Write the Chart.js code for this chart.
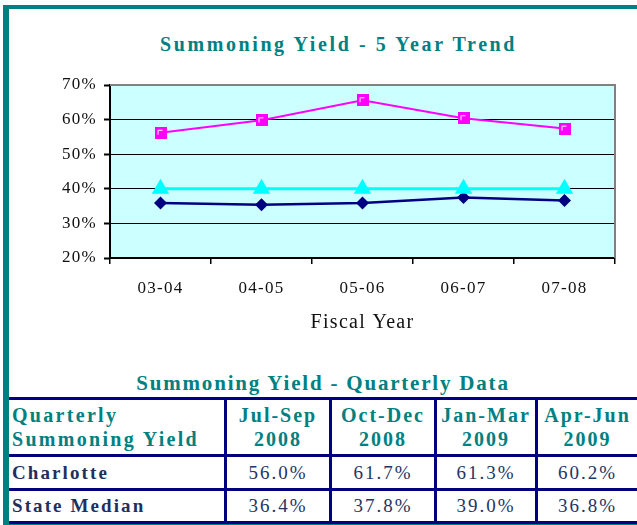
<!DOCTYPE html>
<html>
<head>
<meta charset="utf-8">
<script src="https://cdn.jsdelivr.net/npm/chart.js@4.4.0/dist/chart.umd.min.js"></script>
<style>
html, body { margin: 0; padding: 0; background: #fff; width: 637px; height: 525px; overflow: hidden; position: relative;
  font-family: "Liberation Serif", "Times New Roman", serif; }
#frame { position: absolute; left: 3px; top: 5px; width: 700px; height: 520px; box-sizing: border-box;
  border-left: 6px solid #008080; border-top: 4px solid #008080; border-bottom: 2px solid #008080; }
#title { position: absolute; left: 40px; width: 597px; top: 32px; line-height: 24px; text-align: center;
  font-weight: bold; font-size: 20px; letter-spacing: 2.6px; color: #008080; }
#chart { position: absolute; left: 9px; top: 9px; }
#qtitle { position: absolute; left: 9px; width: 628px; top: 371px; line-height: 24px; text-align: center;
  font-weight: bold; font-size: 21px; letter-spacing: 1.8px; color: #008080; }
#qtable { position: absolute; left: 9px; top: 397px; display: grid;
  grid-template-columns: 218px 105px 105px 101px 102px; grid-template-rows: 57px 34px 33px;
  border-top: 3px solid #000080; z-index: 2; }
#qtable div { box-sizing: border-box; border-right: 3px solid #000080; border-bottom: 3px solid #000080;
  display: flex; align-items: center; justify-content: center; text-align: center; }
#qtable .hd { color: #008080; font-weight: bold; font-size: 20px; letter-spacing: 2px; line-height: 24px; }
#qtable .lab { justify-content: flex-start; text-align: left; padding-left: 3px; letter-spacing: 2.3px; }
#qtable .rl { color: #1F2F5F; font-weight: bold; font-size: 19px; letter-spacing: 2.1px; }
#qtable .v { color: #243463; font-size: 19px; letter-spacing: 2px; }
</style>
</head>
<body>
<div id="frame"></div>
<div id="title">Summoning Yield - 5 Year Trend</div>
<canvas id="chart" width="628" height="330"></canvas>
<div id="qtitle">Summoning Yield - Quarterly Data</div>
<div id="qtable"></div>
<script>
// 5 year trend
const years = ['03-04', '04-05', '05-06', '06-07', '07-08'];
const charlotte = [56.2, 59.8, 65.6, 60.4, 57.4];
const stateMedian = [35.9, 35.4, 35.9, 37.5, 36.6];
const benchmark = [40, 40, 40, 40, 40];
const yMin = 20, yMax = 70, yStep = 10;

// quarterly table
const quarters = ['Jul-Sep', 'Oct-Dec', 'Jan-Mar', 'Apr-Jun'];
const quarterYears = ['2008', '2008', '2009', '2009'];
const qCharlotte = [56.0, 61.7, 61.3, 60.2];
const qStateMedian = [36.4, 37.8, 39.0, 36.8];

const serif = '"Liberation Serif", "Times New Roman", serif';

// magenta square with the little white corner
function squareMarker() {
    const c = document.createElement('canvas');
    c.width = 12; c.height = 12;
    const g = c.getContext('2d');
    g.fillStyle = '#FF00FF';
    g.fillRect(0, 0, 12, 12);
    g.strokeStyle = '#fff';
    g.lineWidth = 1;
    g.beginPath();
    g.moveTo(3.5, 8); g.lineTo(3.5, 3.5); g.lineTo(8, 3.5);
    g.stroke();
    return c;
}

const plotBg = {
    id: 'plotBg',
    beforeLayout: (chart) => { chart.ctx.letterSpacing = '1.3px'; },
    beforeDraw: (chart) => {
        const ctx = chart.ctx, a = chart.chartArea;
        ctx.letterSpacing = '1.3px';
        ctx.save();
        ctx.fillStyle = '#CCFFFF';
        ctx.fillRect(a.left, a.top, a.right - a.left, a.bottom - a.top);
        ctx.restore();
    },
    beforeDatasetsDraw: (chart) => {
        const ctx = chart.ctx, a = chart.chartArea;
        ctx.save();
        ctx.strokeStyle = '#808080';
        ctx.lineWidth = 2;
        ctx.beginPath();
        ctx.moveTo(a.left, a.top);
        ctx.lineTo(a.right, a.top);
        ctx.lineTo(a.right, a.bottom);
        ctx.stroke();
        ctx.restore();
    }
};

new Chart(document.getElementById('chart'), {
    type: 'line',
    data: {
        labels: years,
        datasets: [
            { label: 'Charlotte', data: charlotte, borderColor: '#FF00FF', borderWidth: 2,
              pointStyle: squareMarker(), pointRadius: 6 },
            { label: 'Benchmark', data: benchmark, borderColor: '#00FFFF', borderWidth: 3,
              pointStyle: 'triangle', pointRadius: 10, backgroundColor: '#00FFFF', pointBorderWidth: 0 },
            { label: 'State Median', data: stateMedian, borderColor: '#000080', borderWidth: 2.5,
              pointStyle: 'rectRot', pointRadius: 6.5, backgroundColor: '#000080', pointBorderWidth: 0 }
        ]
    },
    options: {
        responsive: false,
        animation: false,
        layout: { padding: { left: 30, right: 22, top: 76, bottom: 6 } },
        plugins: { legend: { display: false }, tooltip: { enabled: false } },
        elements: { line: { tension: 0 } },
        scales: {
            x: {
                offset: true,
                grid: { offset: true, drawOnChartArea: false, tickLength: 6, color: '#000', lineWidth: 1.5 },
                border: { color: '#000', width: 2 },
                ticks: { padding: 16, color: '#111', font: { family: serif, size: 17, lineHeight: 1 } },
                title: { display: true, text: 'Fiscal Year', color: '#111', padding: { top: 0, bottom: 0 },
                         font: { family: serif, size: 20, lineHeight: 1 } }
            },
            y: {
                min: yMin, max: yMax,
                ticks: { stepSize: yStep, padding: 7, color: '#111', font: { family: serif, size: 17 },
                         callback: (v) => v + '%' },
                grid: { color: '#000', lineWidth: 1, tickLength: 6, tickColor: '#000', tickWidth: 2 },
                border: { color: '#000', width: 2 },
                afterFit: (s) => { s.width = 71; }
            }
        }
    },
    plugins: [plotBg]
});

// quarterly table from the arrays
const tbl = document.getElementById('qtable');
function cell(html, cls) {
    const d = document.createElement('div');
    d.className = cls;
    d.innerHTML = html;
    tbl.appendChild(d);
}
cell('Quarterly<br>Summoning Yield', 'hd lab');
quarters.forEach((q, i) => cell(q + '<br>' + quarterYears[i], 'hd'));
cell('Charlotte', 'rl lab');
qCharlotte.forEach((v) => cell(v.toFixed(1) + '%', 'v'));
cell('State Median', 'rl lab');
qStateMedian.forEach((v) => cell(v.toFixed(1) + '%', 'v'));
</script>
</body>
</html>
